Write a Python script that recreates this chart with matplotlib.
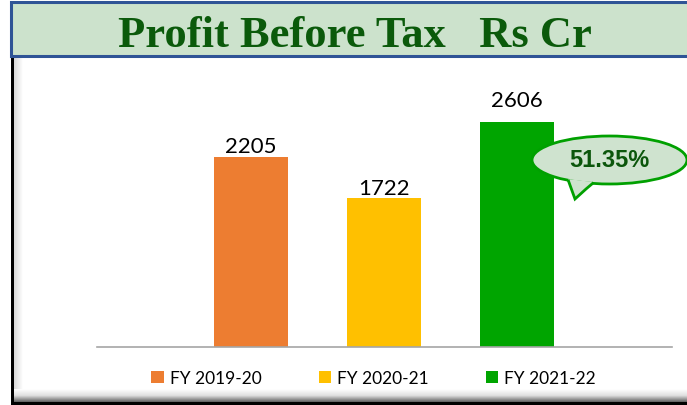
import matplotlib
matplotlib.use("Agg")
import matplotlib.pyplot as plt
import numpy as np
from matplotlib.patches import Rectangle, Ellipse, Polygon

# ---- data ----
categories = ["FY 2019-20", "FY 2020-21", "FY 2021-22"]
values = [2205, 1722, 2606]
growth_label = "51.35%"
title = "Profit Before Tax   Rs Cr"

colors = ["#ED7D31", "#FFC000", "#00A500"]
label_offsets_pt = [3.5, 3.0, 11.5]

W, H = 687, 406
fig = plt.figure(figsize=(W / 100, H / 100), dpi=100)
fig.patch.set_facecolor("white")

# background decoration axes in pixel coords
bg = fig.add_axes([0, 0, 1, 1], zorder=0)
bg.set_xlim(0, W)
bg.set_ylim(H, 0)
bg.axis("off")

# left shading gradient
grad = np.linspace(0, 1, 50).reshape(1, -1)
bg.imshow(grad, extent=(14, 23, H, 57), cmap=matplotlib.colors.LinearSegmentedColormap.from_list("g1", ["#d8d8d8", "#ffffff"]), aspect="auto", zorder=1)
# bottom gradient
gradv = np.linspace(0, 1, 50).reshape(-1, 1)
bg.imshow(gradv, extent=(11, W, 403, 390), cmap=matplotlib.colors.LinearSegmentedColormap.from_list("g2", ["#ffffff", "#e0e0e0", "#606060"]), aspect="auto", zorder=1, origin="upper")
bg.add_patch(Rectangle((11, 403), W - 11, 4, facecolor="#000000", edgecolor="none", zorder=2))
# left black line
bg.add_patch(Rectangle((10.5, 57), 3, H - 57, facecolor="#000000", edgecolor="none", zorder=2))
# title box
bg.add_patch(Rectangle((11, 2.5), W - 9, 54.5, facecolor="#CCE2CC", edgecolor="#2F5496", linewidth=2.2, zorder=3))
bg.text(355, 47, title, ha="center", va="baseline", fontsize=32, fontweight="bold",
        family="Liberation Serif", color="#0B5A0B", zorder=4)

# main axes
ax_left, ax_right, ax_bottom, ax_top = 97, 672, 348, 60
ax = fig.add_axes([ax_left / W, (H - ax_bottom) / H, (ax_right - ax_left) / W, (ax_bottom - ax_top) / H], zorder=1)
ax.set_facecolor("none")
x = np.arange(len(categories))
bars = ax.bar(x, values, width=0.556, color=colors, label=categories, zorder=2)
ax.set_xlim(-1.158, 3.165)
ax.set_ylim(0, 3336)
for s in ["top", "left", "right"]:
    ax.spines[s].set_visible(False)
ax.spines["bottom"].set_color("#A6A6A6")
ax.spines["bottom"].set_linewidth(1.2)
ax.set_xticks([])
ax.set_yticks([])
for xi, v, off in zip(x, values, label_offsets_pt):
    ax.annotate(str(v), (xi, v), xytext=(0, off), textcoords="offset points",
                ha="center", va="baseline", fontsize=16, family="Lato", color="#000000")

handles = [Rectangle((0, 0), 1, 1, facecolor=c, edgecolor="none") for c in colors]
leg = fig.legend(handles, categories, loc="center", bbox_to_anchor=(373.5 / W, (H - 379) / H),
                 ncol=3, frameon=False, prop={"family": "Lato", "size": 12.5},
                 handlelength=0.7, handleheight=0.65, handletextpad=0.35, columnspacing=3.3)

# bubble overlay axes
fg = fig.add_axes([0, 0, 1, 1], zorder=3)
fg.set_xlim(0, W)
fg.set_ylim(H, 0)
fg.axis("off")
fg.patch.set_alpha(0)
edge = "#00A000"
fill = "#CFE3CF"
fg.add_patch(Ellipse((609.5, 161), 155, 48, facecolor=fill, edgecolor=edge, linewidth=2))
tail = [(568, 180), (575, 200), (586, 190), (593, 183)]
fg.add_patch(Polygon(tail, closed=True, facecolor=fill, edgecolor="none", zorder=3))
fg.plot([568.5, 575, 586, 592.5], [182, 200, 190, 184.5], color=edge, linewidth=2, zorder=4, solid_joinstyle="miter")
fg.text(609, 167.5, growth_label, ha="center", va="baseline", fontsize=17, fontweight="bold",
        family="Liberation Sans", color="#0B560B", zorder=5)

fig.savefig("out.png", dpi=100)
